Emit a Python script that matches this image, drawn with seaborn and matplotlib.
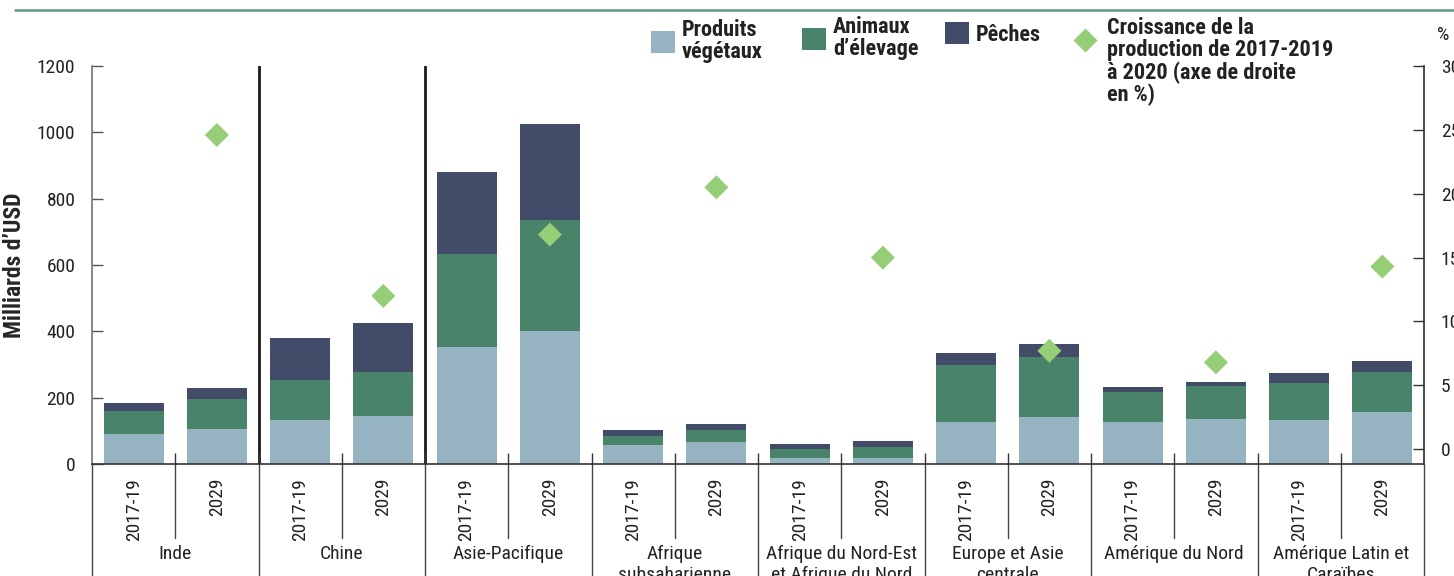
import matplotlib
matplotlib.use('Agg')
import matplotlib.pyplot as plt
import matplotlib.transforms as mtransforms
from matplotlib import font_manager
from matplotlib.patches import Patch
from matplotlib.lines import Line2D
import pandas as pd
import seaborn as sns

# --- data -------------------------------------------------------------
regions = ['Inde', 'Chine', 'Asie-Pacifique', 'Afrique\nsubsaharienne',
           'Afrique du Nord-Est\net Afrique du Nord', 'Europe et Asie\ncentrale',
           'Amérique du Nord', 'Amérique Latin et\nCaraïbes']
periods = ['2017-19', '2029']

# Milliards d'USD, two bars per region (2017-19, 2029)
vegetaux = [90, 105, 133, 145, 352, 401, 57, 66, 18, 18, 127, 142, 127, 136, 133, 157]
elevage = [70, 91, 120, 132, 281, 334, 27, 36, 27, 33, 171, 180, 90, 99, 111, 120]
peches = [24, 33, 127, 148, 247, 289, 18, 18, 15, 18, 36, 39, 15, 12, 30, 33]
# %, right axis, one value per region (drawn on the 2029 bar)
croissance = [24.6, 12.0, 16.8, 20.5, 15.0, 7.7, 6.8, 14.3]

COL_VEG = '#95b3c0'
COL_ELE = '#48836a'
COL_PEC = '#424c68'
COL_DIA = '#96ce78'
W, H = 1454, 576

sns.set_theme(style='white')
available = {f.name for f in font_manager.fontManager.ttflist}
base_font = next((f for f in ['Roboto Condensed', 'Liberation Sans Narrow', 'Roboto']
                  if f in available), 'DejaVu Sans')
plt.rcParams['font.family'] = [base_font, 'DejaVu Sans']
plt.rcParams['text.color'] = '#222222'
plt.rcParams['xtick.color'] = '#222222'
plt.rcParams['ytick.color'] = '#222222'

df = pd.DataFrame({
    'bar': [f'{r}|{p}' for r in regions for p in periods],
    'periode': [p for r in regions for p in periods],
    'veg': vegetaux,
    'ele': elevage,
    'pec': peches,
})
df['veg_ele'] = df['veg'] + df['ele']
df['total'] = df['veg_ele'] + df['pec']
order = list(df['bar'])
n = len(order)

fig = plt.figure(figsize=(W / 100, H / 100), dpi=100)
ax = fig.add_axes([92 / W, 112 / H, 1332 / W, 398 / H])

# stacked bars: draw totals first, then overlay the lower parts
for col, colour in [('total', COL_PEC), ('veg_ele', COL_ELE), ('veg', COL_VEG)]:
    sns.barplot(data=df, x='bar', y=col, order=order, color=colour,
                saturation=1, width=0.72, linewidth=0, ax=ax)

ax.set_ylim(0, 1200)
ax.set_yticks(range(0, 1201, 200))
ax.set_xlim(-0.5, n - 0.5)
ax.set_ylabel('Milliards d’USD', fontsize=17, fontweight='bold', labelpad=8)
ax.set_xlabel('')
ax.tick_params(axis='y', direction='in', length=8, width=1, color='#555555',
               labelsize=14, pad=12, left=True)
ax.set_xticks(range(n))
ax.set_xticklabels(df['periode'], rotation=90, fontsize=14)
ax.tick_params(axis='x', length=0, pad=10)
ax.set_xticks([i + 0.5 for i in range(n - 1)], minor=True)
ax.tick_params(axis='x', which='minor', direction='in', length=8, width=1,
               color='#333333', bottom=True)

for side in ['top', 'right']:
    ax.spines[side].set_visible(False)
ax.spines['left'].set_color('#777777')
ax.spines['bottom'].set_color('#333333')
ax.spines['bottom'].set_linewidth(1.2)

# separators between Inde / Chine / Asie-Pacifique
for x in [1.5, 3.5]:
    ax.axvline(x, color='#1a1a1a', lw=2, zorder=0)

# group separators under the axis and region labels
trans = mtransforms.blended_transform_factory(ax.transData, ax.transAxes)
for k, region in enumerate(regions):
    left = 2 * k - 0.5
    ax.plot([left, left], [0, -0.30], transform=trans, color='#444444',
            lw=1, clip_on=False)
    ax.plot([left + 1, left + 1], [0, -0.185], transform=trans, color='#444444',
            lw=1, clip_on=False)
    ax.text(left + 1, -0.204, region, transform=trans, ha='center', va='top',
            fontsize=14, linespacing=1.2)
ax.plot([n - 0.5, n - 0.5], [0, -0.30], transform=trans, color='#444444',
        lw=1, clip_on=False)

# growth diamonds on the right axis
ax2 = ax.twinx()
pos_2029 = [2 * k + 1 for k in range(len(regions))]
sns.scatterplot(x=pos_2029, y=croissance, marker='D', s=150, color=COL_DIA,
                edgecolor='none', ax=ax2, zorder=5)
ax2.set_ylim(-1.16, 30)
ax2.set_yticks(range(0, 31, 5))
ax2.set_xlim(-0.5, n - 0.5)
ax2.tick_params(axis='y', direction='in', length=8, width=1, color='#333333',
                labelsize=14, pad=12, right=True)
ax2.spines['top'].set_visible(False)
ax2.spines['left'].set_visible(False)
ax2.spines['bottom'].set_visible(False)
ax2.spines['right'].set_color('#333333')
ax2.text(1.0098, 1.078, '%', transform=ax2.transAxes, ha='left', va='center',
         fontsize=14)

# top rule
fig.add_artist(Line2D([0.01, 1.0], [0.983, 0.983], transform=fig.transFigure,
                      color='#5b9a80', lw=1.8))

# legend, one entry at a time as in the original layout
leg_font = {'weight': 'bold', 'size': 16}


def legend_item(handle, label, x, y):
    leg = fig.legend([handle], [label], loc='center left',
                     bbox_to_anchor=(x / W, 1 - y / H), frameon=False,
                     prop=leg_font, handlelength=1.1, handleheight=1.1,
                     handletextpad=0.3, borderpad=0, borderaxespad=0)
    for t in leg.get_texts():
        t.set_linespacing(1.0)
    return leg


legend_item(Patch(facecolor=COL_VEG, edgecolor='none'), 'Produits\nvégétaux', 651, 41)
legend_item(Patch(facecolor=COL_ELE, edgecolor='none'), 'Animaux\nd’élevage', 802, 38)
legend_item(Patch(facecolor=COL_PEC, edgecolor='none'), 'Pêches', 945, 34)
fig.add_artist(Line2D([1085 / W], [1 - 40 / H], transform=fig.transFigure,
                      marker='D', linestyle='none', markersize=12.5,
                      markerfacecolor=COL_DIA, markeredgecolor='none'))
fig.text(1107 / W, 1 - 17 / H,
         'Croissance de la\nproduction de 2017-2019\nà 2020 (axe de droite\nen %)',
         ha='left', va='top', fontsize=16, fontweight='bold', linespacing=1.0)

fig.savefig('out.png', dpi=100)
